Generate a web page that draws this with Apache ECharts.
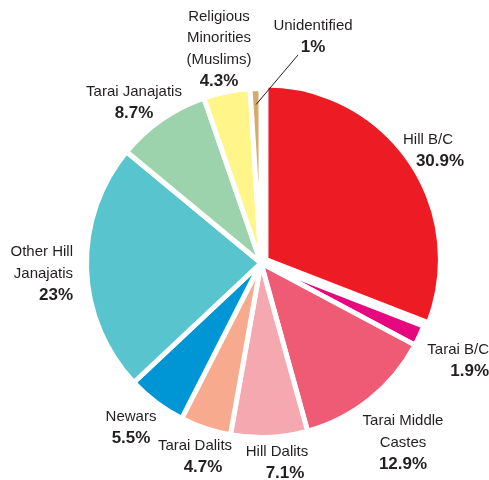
<!DOCTYPE html>
<html>
<head>
<meta charset="utf-8">
<script src="https://cdn.jsdelivr.net/npm/echarts@6/dist/echarts.min.js"></script>
<style>
  html, body { margin: 0; padding: 0; background: #fff; }
  #chart { width: 489px; height: 480px; }
</style>
</head>
<body>
<div id="chart"></div>
<script>
// Population shares by caste / ethnic group (%), clockwise from 12 o'clock
const groups = [
  'Hill B/C', 'Tarai B/C', 'Tarai Middle\nCastes', 'Hill Dalits', 'Tarai Dalits',
  'Newars', 'Other Hill\nJanajatis', 'Tarai Janajatis', 'Religious\nMinorities\n(Muslims)', 'Unidentified'
];
const shares = [30.9, 1.9, 12.9, 7.1, 4.7, 5.5, 23, 8.7, 4.3, 1];
const valueLabels = ['30.9%', '1.9%', '12.9%', '7.1%', '4.7%', '5.5%', '23%', '8.7%', '4.3%', '1%'];

const colors = [
  '#ED1C24', '#E6087F', '#EF5B75', '#F5A8B0', '#F7AA8D',
  '#0096D6', '#57C4CE', '#9CD3AD', '#FFF589', '#D4AB6C'
];

// Label placement: anchor x (centre or right edge), block centre y,
// text alignment and a small horizontal nudge for the percentage line
const labelSpots = [
  { x: 428, y: 151, align: 'center', shift: 12 },
  { x: 489, y: 361, align: 'right',  shift: 0 },
  { x: 403, y: 443, align: 'center', shift: 0 },
  { x: 277, y: 463, align: 'center', shift: 8 },
  { x: 195, y: 457, align: 'center', shift: 8 },
  { x: 131, y: 428, align: 'center', shift: 0 },
  { x: 73,  y: 274, align: 'right',  shift: 0 },
  { x: 134, y: 103, align: 'center', shift: 0 },
  { x: 219, y: 49,  align: 'center', shift: 0 },
  { x: 313, y: 37,  align: 'center', shift: 0 }
];

const FONT = '"Liberation Sans", Arial, sans-serif';
const INK = '#231F20';
const CENTER = [261, 263];
const RADIUS = 174.5;
const BORDER = 5;
const PULLED = 0;        // index of the slice drawn pulled out from the centre
const PULL = 6;          // how far it is pulled, px
const LEADER = 9;        // index of the slice whose label has a leader line

const total = shares.reduce((a, b) => a + b, 0);
const before = shares.map((_, i) => shares.slice(0, i).reduce((a, b) => a + b, 0));
const midAngle = i => (before[i] + shares[i] / 2) / total * Math.PI * 2;   // clockwise from 12 o'clock
const polar = (c, r, a) => [c[0] + Math.sin(a) * r, c[1] - Math.cos(a) * r];

const pulledCenter = polar(CENTER, PULL, midAngle(PULLED));
const clear = 'rgba(0,0,0,0)';

// Main pie: every slice except the pulled one is painted here, all labels too
const mainData = groups.map((g, i) => {
  const s = labelSpots[i];
  return {
    name: g,
    value: shares[i],
    itemStyle: i === PULLED ? { color: clear, borderColor: clear } : { color: colors[i] },
    label: {
      rich: {
        n: { fontFamily: FONT, fontSize: 15, color: INK, lineHeight: 21.5, align: s.align },
        v: {
          fontFamily: FONT, fontSize: 17, fontWeight: 'bold', color: INK, lineHeight: 22,
          align: s.align, padding: [0, 0, 0, s.shift * 2]
        }
      }
    }
  };
});

// Second pie with the same values, showing only the pulled slice at a shifted centre
const pulledData = groups.map((g, i) => ({
  name: g,
  value: shares[i],
  itemStyle: i === PULLED
    ? { color: colors[i], borderColor: '#ffffff', borderWidth: BORDER }
    : { color: clear, borderColor: clear, borderWidth: 0 }
}));

// Leader line from inside the small slice's rim up to its label
const leadStart = polar(CENTER, RADIUS - BORDER - 11, midAngle(LEADER));
const leadEnd = [labelSpots[LEADER].x - 15, labelSpots[LEADER].y + 18];

const chart = echarts.init(document.getElementById('chart'), null, { renderer: 'canvas' });

chart.setOption({
  animation: false,
  graphic: [{
    type: 'line',
    z: 10,
    shape: { x1: leadStart[0], y1: leadStart[1], x2: leadEnd[0], y2: leadEnd[1] },
    style: { stroke: INK, lineWidth: 1 }
  }],
  series: [{
    type: 'pie',
    center: CENTER,
    radius: RADIUS,
    startAngle: 90,
    clockwise: true,
    silent: true,
    avoidLabelOverlap: false,
    itemStyle: { borderColor: '#ffffff', borderWidth: BORDER },
    emphasis: { disabled: true },
    label: {
      show: true,
      position: 'outside',
      formatter: p => '{n|' + p.name.split('\n').join('}\n{n|') + '}\n{v|' + valueLabels[p.dataIndex] + '}'
    },
    labelLine: { show: false },
    labelLayout: p => {
      const s = labelSpots[p.dataIndex];
      return { x: s.x, y: s.y, align: s.align, verticalAlign: 'middle' };
    },
    data: mainData
  }, {
    type: 'pie',
    center: pulledCenter,
    radius: RADIUS,
    startAngle: 90,
    clockwise: true,
    silent: true,
    emphasis: { disabled: true },
    label: { show: false },
    labelLine: { show: false },
    data: pulledData
  }]
});
</script>
</body>
</html>
